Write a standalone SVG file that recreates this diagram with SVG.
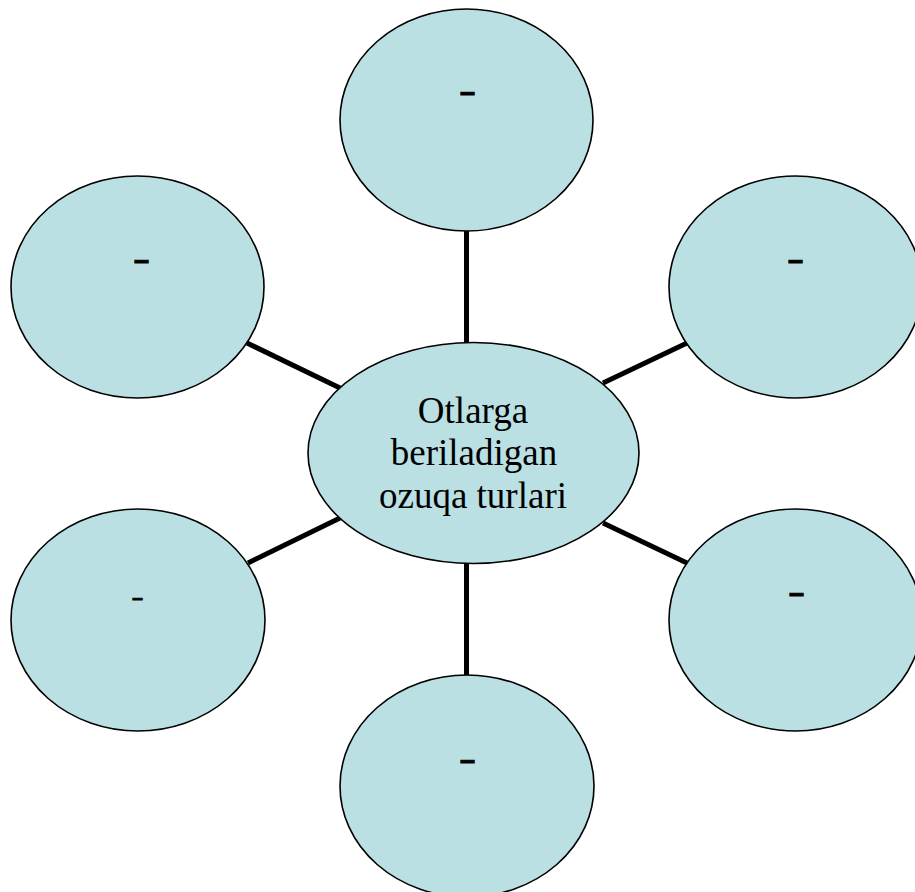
<svg xmlns="http://www.w3.org/2000/svg" width="915" height="892" viewBox="0 0 915 892">
<style>
.node { fill: #BAE0E3; stroke: #000; stroke-width: 1.6; }
.conn { stroke: #000; stroke-width: 5; fill: none; }
.dash { font-family: "Liberation Sans", Arial, sans-serif; font-weight: bold; font-size: 27px; text-anchor: middle; fill: #000; stroke: #000; stroke-width: 1; }
.lbl { font-family: "Liberation Serif", "Times New Roman", serif; font-size: 37px; text-anchor: middle; fill: #000; }
</style>
<rect width="915" height="892" fill="#fff"/>
<g id="connectors">
<line class="conn" x1="466.5" y1="230" x2="466.5" y2="344"/>
<line class="conn" x1="466.5" y1="562" x2="466.5" y2="677"/>
<line class="conn" x1="247" y1="343" x2="340" y2="388"/>
<line class="conn" x1="603" y1="383" x2="687" y2="343"/>
<line class="conn" x1="248" y1="563" x2="340" y2="518"/>
<line class="conn" x1="603" y1="523" x2="687" y2="563"/>
</g>
<g id="n-top">
<ellipse class="node" cx="466.5" cy="120" rx="126.5" ry="111"/>
<text class="dash" x="467.5" y="101">–</text>
</g>
<g id="n-upper-left">
<ellipse class="node" cx="137.5" cy="287" rx="126.5" ry="111"/>
<text class="dash" x="141.5" y="269">–</text>
</g>
<g id="n-upper-right">
<ellipse class="node" cx="795.5" cy="287" rx="126.5" ry="111"/>
<text class="dash" x="795.5" y="269">–</text>
</g>
<g id="n-lower-left">
<ellipse class="node" cx="138" cy="620" rx="127" ry="111"/>
<text class="dash" x="137.5" y="604" style="font-size:19px">–</text>
</g>
<g id="n-lower-right">
<ellipse class="node" cx="795.5" cy="620" rx="126.5" ry="111"/>
<text class="dash" x="796.5" y="602">–</text>
</g>
<g id="n-bottom">
<ellipse class="node" cx="467" cy="786" rx="127" ry="111"/>
<text class="dash" x="467.5" y="769">–</text>
</g>
<g id="n-center">
<ellipse class="node" cx="473.5" cy="453" rx="165.5" ry="110.5"/>
<text class="lbl" x="473" y="423">Otlarga</text>
<text class="lbl" x="474" y="465">beriladigan</text>
<text class="lbl" x="473" y="508">ozuqa turlari</text>
</g>
</svg>
